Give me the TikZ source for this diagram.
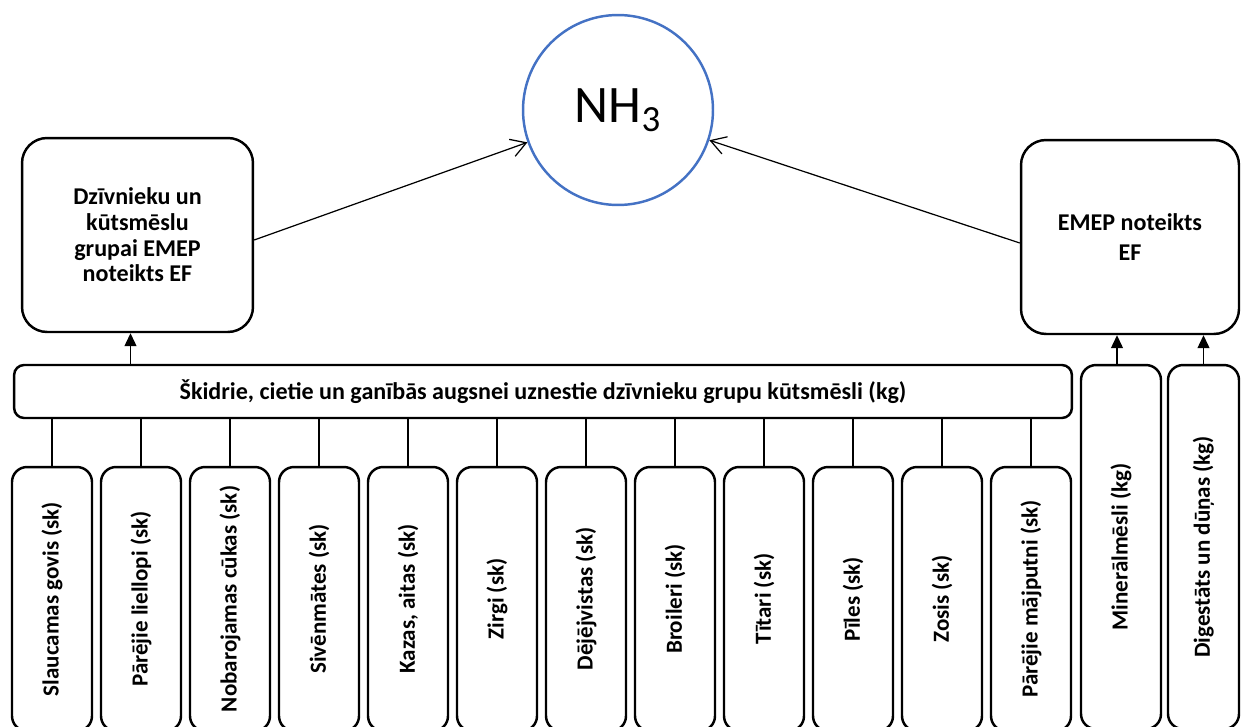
\documentclass[tikz,border=0pt]{standalone}
\usepackage{fontspec}
\setmainfont{Carlito}
\usetikzlibrary{arrows.meta}
\definecolor{nhblue}{HTML}{4472C4}

\begin{document}
\begin{tikzpicture}[x = 0.02cm, y = -0.02cm,
  box/.style = {draw, line width = 1.4pt, rounded corners = 0.5cm, align = center, inner sep = 0pt, font = \bfseries\fontsize{13.7}{14.6}\selectfont},
  tallbox/.style = {box, rounded corners = 0.3cm, minimum width = 1.6cm, font = \bfseries\fontsize{13.1}{14}\selectfont},
  link/.style = {line width = 0.7pt},
  up/.style = {link, -{Triangle[length = 0.26cm, width = 0.24cm]}},
  toward/.style = {link, -{Straight Barb[length = 0.3cm, width = 0.36cm]}}]
\useasboundingbox (0,0) rectangle (1241,727);
\node[circle, draw = nhblue, line width = 1.4pt, minimum size = 3.8cm, font = \fontsize{30}{34}\selectfont] (nh) at (618,110) {NH\textsubscript{3}};
\node[box, minimum width = 4.62cm, minimum height = 3.88cm] (dzb) at (137.5,235) {Dzīvnieku un\\kūtsmēslu\\grupai EMEP\\noteikts EF};
\node[box, minimum width = 4.36cm, minimum height = 3.88cm, font = \bfseries\fontsize{13.7}{17}\selectfont] (emep) at (1130,237) {EMEP noteikts\\EF};
\node[box, rounded corners = 0.2cm, minimum width = 21.16cm, minimum height = 1.06cm] (kut) at (543,391.5) {\raisebox{-0.08cm}{Škidrie, cietie un ganībās augsnei uznestie dzīvnieku grupu kūtsmēsli (kg)}};
\node[tallbox, minimum height = 7.28cm] (min) at (1121,547) {\rotatebox{90}{Minerālmēsli (kg)}};
\node[tallbox, minimum width = 1.42cm, minimum height = 7.28cm] (dig) at (1203.5,547) {\rotatebox{90}{Digestāts un dūņas (kg)}};
\foreach \txt [count = \i] in {Slaucamas govis (sk), Pārējie liellopi (sk), Nobarojamas cūkas (sk), Sivēnmātes (sk), {Kazas, aitas (sk)}, Zirgi (sk), Dējējvistas (sk), Broileri (sk), Tītari (sk), Pīles (sk), Zosis (sk), Pārējie mājputni (sk)}
{
  \node[tallbox, minimum height = 5.28cm] (an\i) at ({52 + (\i - 1)*89},599) {\rotatebox{90}{\txt}};
  \draw[link] (an\i.north |- kut.south) -- (an\i.north);
}
\coordinate (la) at ([xshift = -0.14cm]dzb.south);
\coordinate (ma) at ([xshift = -0.08cm]min.north);
\draw[up] (la |- kut.north) -- (la);
\draw[up] (ma) -- (ma |- emep.south);
\draw[up] (dig.north) -- (dig.north |- emep.south);
\draw[toward] ([yshift = -0.1cm]dzb.east) -- (nh);
\draw[toward] ([yshift = -0.12cm]emep.west) -- (nh);
\end{tikzpicture}
\end{document}
